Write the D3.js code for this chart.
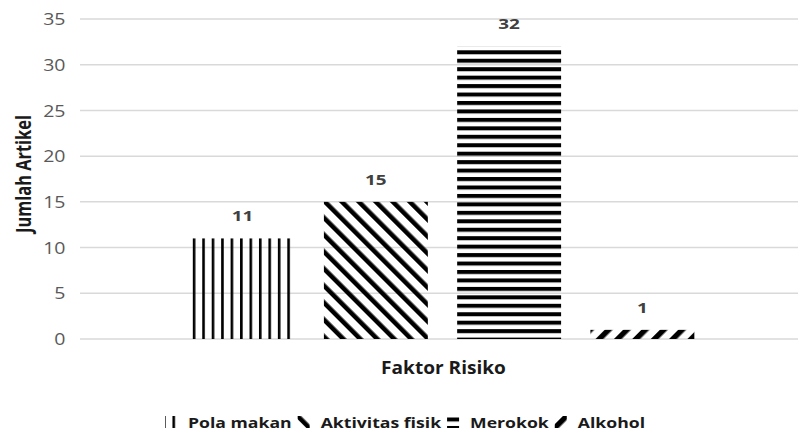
<!DOCTYPE html>
<html><head><meta charset="utf-8">
<script src="https://cdn.jsdelivr.net/npm/d3@7"></script>
<style>body{margin:0;background:#fff}svg{display:block}</style>
</head><body><svg id="c" width="798" height="432"></svg>
<script>
const series = ["Pola makan", "Aktivitas fisik", "Merokok", "Alkohol"];
const values = [11, 15, 32, 1];
const yTicks = [0, 5, 10, 15, 20, 25, 30, 35];
const xTitle = "Faktor Risiko";
const yTitle = "Jumlah Artikel";

const svg = d3.select("#c");
const FONT = "'Open Sans', 'Noto Sans', sans-serif";
const SX = 1.26; // horizontal text stretch seen in the reference
const plot = {left: 80, right: 798, top: 19, bottom: 339};
const y = d3.scaleLinear().domain([0, 35]).range([plot.bottom, plot.top]);
const x = d3.scaleBand().domain(series).range([176, 709]).paddingInner(0.22).paddingOuter(0.11);

// patterns
const defs = svg.append("defs");
function makePattern(id, kind, ox, oy) {
  let p;
  if (kind === "vertical") {
    p = defs.append("pattern").attr("id", id).attr("patternUnits", "userSpaceOnUse")
      .attr("x", ox).attr("y", 0).attr("width", 9.45).attr("height", 10);
    p.append("rect").attr("x", 0).attr("y", 0).attr("width", 2.6).attr("height", 10).attr("fill", "#000");
  } else if (kind === "horizontal") {
    p = defs.append("pattern").attr("id", id).attr("patternUnits", "userSpaceOnUse")
      .attr("x", 0).attr("y", oy).attr("width", 10).attr("height", 8.45);
    p.append("rect").attr("x", 0).attr("y", 0).attr("width", 10).attr("height", 4.0).attr("fill", "#000");
  } else if (kind === "backslash") {
    p = defs.append("pattern").attr("id", id).attr("patternUnits", "userSpaceOnUse")
      .attr("x", ox).attr("y", oy).attr("width", 12).attr("height", 12).attr("patternTransform", "rotate(-45)");
    p.append("rect").attr("x", 0).attr("y", 0).attr("width", 4.6).attr("height", 12).attr("fill", "#000");
  } else {
    p = defs.append("pattern").attr("id", id).attr("patternUnits", "userSpaceOnUse")
      .attr("x", ox).attr("y", oy).attr("width", 13).attr("height", 13).attr("patternTransform", "rotate(45)");
    p.append("rect").attr("x", 0).attr("y", 0).attr("width", 5.5).attr("height", 13).attr("fill", "#000");
  }
}
const kinds = ["vertical", "backslash", "horizontal", "slash"];
kinds.forEach((k, i) => makePattern("bar" + i, k, 192.8, 50.3));
const legOff = [[-2, 0], [-2.3, 0], [0, 1.5], [5.74, 0]];
kinds.forEach((k, i) => makePattern("leg" + i, k, legOff[i][0], legOff[i][1]));

// gridlines
svg.append("g").selectAll("line").data(yTicks).join("line")
  .attr("x1", plot.left).attr("x2", plot.right)
  .attr("y1", d => y(d)).attr("y2", d => y(d))
  .attr("stroke", "#d9d9d9").attr("stroke-width", 1.5);

// y axis labels
const yAxis = d3.axisLeft(y).tickValues(yTicks).tickSize(0).tickPadding(0);
const ya = svg.append("g").attr("transform", "translate(65.5,0)").call(yAxis);
ya.select(".domain").remove();
ya.selectAll("text").attr("font-family", FONT).attr("font-size", 15.5).attr("fill", "#595959")
  .attr("dy", "0.36em").attr("transform", `scale(${SX},1)`).attr("x", 0);
ya.selectAll(".tick").each(function () {
  const t = d3.select(this);
  const ty = +t.attr("transform").match(/,([\d.\-]+)/)[1];
  t.attr("transform", `translate(0,${ty})`);
});

// bars
svg.append("g").selectAll("rect").data(series).join("rect")
  .attr("x", d => x(d)).attr("width", x.bandwidth())
  .attr("y", (d, i) => y(values[i])).attr("height", (d, i) => y(0) - y(values[i]))
  .attr("fill", (d, i) => `url(#bar${i})`);

// value labels
svg.append("g").selectAll("text").data(series).join("text")
  .attr("transform", (d, i) => `translate(${x(d) + x.bandwidth() / 2},${y(values[i]) - 17}) scale(${SX},1)`)
  .attr("text-anchor", "middle")
  .attr("font-family", FONT).attr("font-weight", "bold").attr("font-size", 15).attr("fill", "#404040")
  .text((d, i) => values[i]);

// titles
svg.append("text").attr("transform", "translate(443.5,374) scale(1.06,1)").attr("text-anchor", "middle")
  .attr("font-family", FONT).attr("font-weight", "bold").attr("font-size", 18).attr("fill", "#1a1a1a").text(xTitle);
svg.append("text").attr("transform", `translate(31,174) rotate(-90) scale(1,${SX})`).attr("text-anchor", "middle")
  .attr("font-family", FONT).attr("font-weight", "bold").attr("font-size", 16.4).attr("fill", "#1a1a1a").text(yTitle);

// legend
const lg = svg.append("g");
let cx = 165;
series.forEach((s, i) => {
  const g = lg.append("g").attr("transform", `translate(${cx},416)`);
  g.append("rect").attr("width", 12).attr("height", 12).attr("fill", `url(#leg${i})`);
  const t = g.append("text").attr("transform", `translate(23,11.5) scale(${SX},1)`)
    .attr("font-family", FONT).attr("font-weight", "bold").attr("font-size", 14).attr("fill", "#1a1a1a").text(s);
  const w = t.node().getComputedTextLength() * SX;
  cx += 23 + w + 6;
});
</script></body></html>
